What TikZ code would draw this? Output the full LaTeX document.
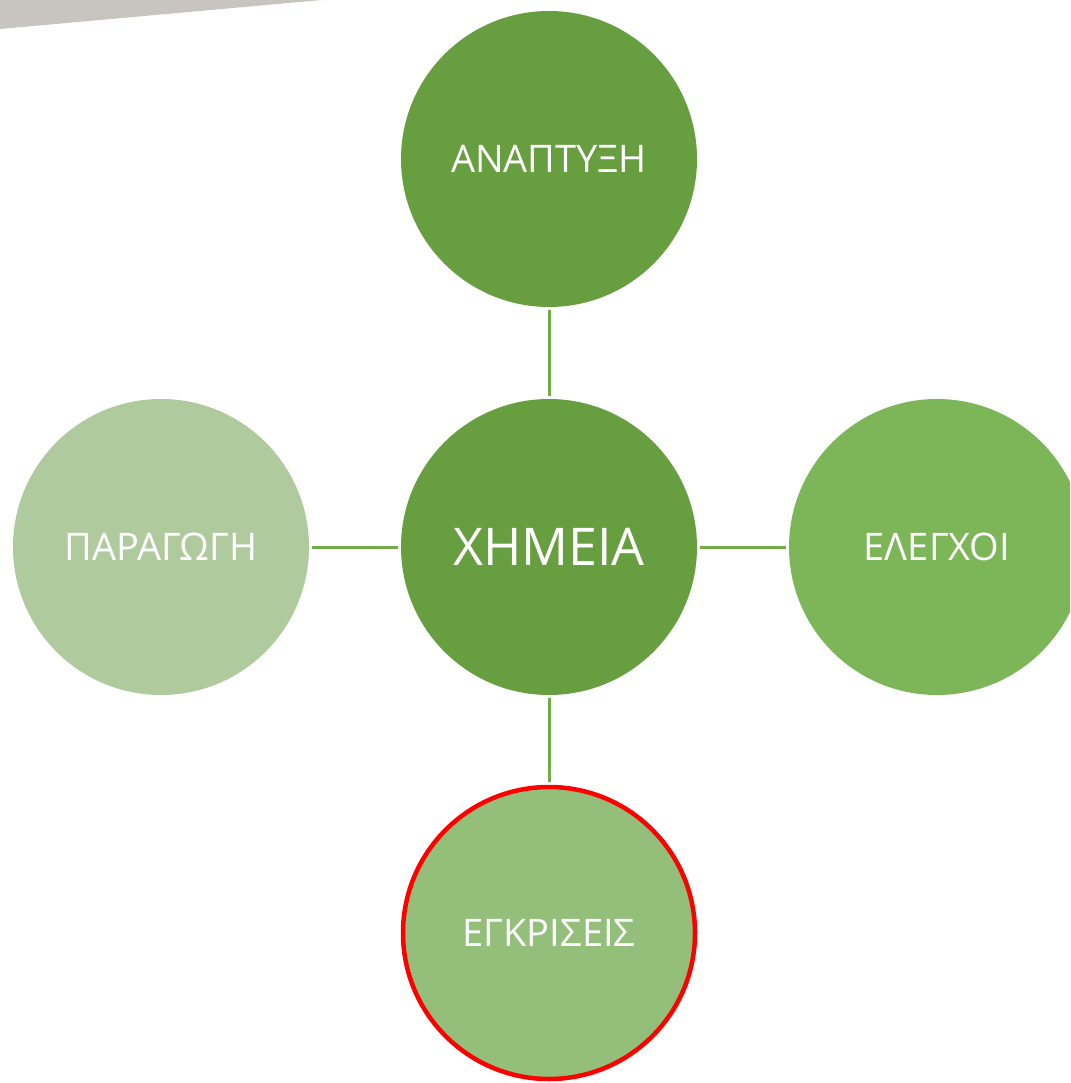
\documentclass[tikz,border=0pt]{standalone}
\usepackage{fontspec}
\setmainfont{Open Sans}
\definecolor{cdark}{RGB}{102,158,64}
\definecolor{cright}{RGB}{125,181,89}
\definecolor{cleft}{RGB}{175,203,158}
\definecolor{cbottom}{RGB}{147,191,123}
\definecolor{cline}{RGB}{112,173,71}
\definecolor{cgray}{RGB}{200,196,192}
\tikzset{
  bubble/.style={circle, minimum size=296pt, inner sep=0pt, text=white, font=\fontsize{38}{38}\selectfont},
  link/.style={draw=cline, line width=3pt, shorten <=3pt, shorten >=3pt},
}
\begin{document}
\begin{tikzpicture}[x=1pt,y=-1pt]
\useasboundingbox (0,0) rectangle (1070,1083);
\clip (0,0) rectangle (1070,1083);
\fill[cgray] (0,0) -- (322,0) -- (0,29) -- cycle;
\node[bubble, fill=cdark, font=\fontsize{52}{52}\selectfont] (c) at (549,547) {ΧΗΜΕΙΑ};
\node[bubble, fill=cdark] (t) at (549,159) {ΑΝΑΠΤΥΞΗ};
\node[bubble, fill=cleft] (l) at (161,547) {ΠΑΡΑΓΩΓΗ};
\node[bubble, fill=cright] (r) at (937,547) {ΕΛΕΓΧΟΙ};
\node[bubble, fill=cbottom, draw=red, line width=4.5pt, minimum size=292pt] (b) at (549,933) {ΕΓΚΡΙΣΕΙΣ};
\draw[link] (c) -- (t);
\draw[link] (c) -- (l);
\draw[link] (c) -- (r);
\draw[link] (c) -- (b);
\end{tikzpicture}
\end{document}
